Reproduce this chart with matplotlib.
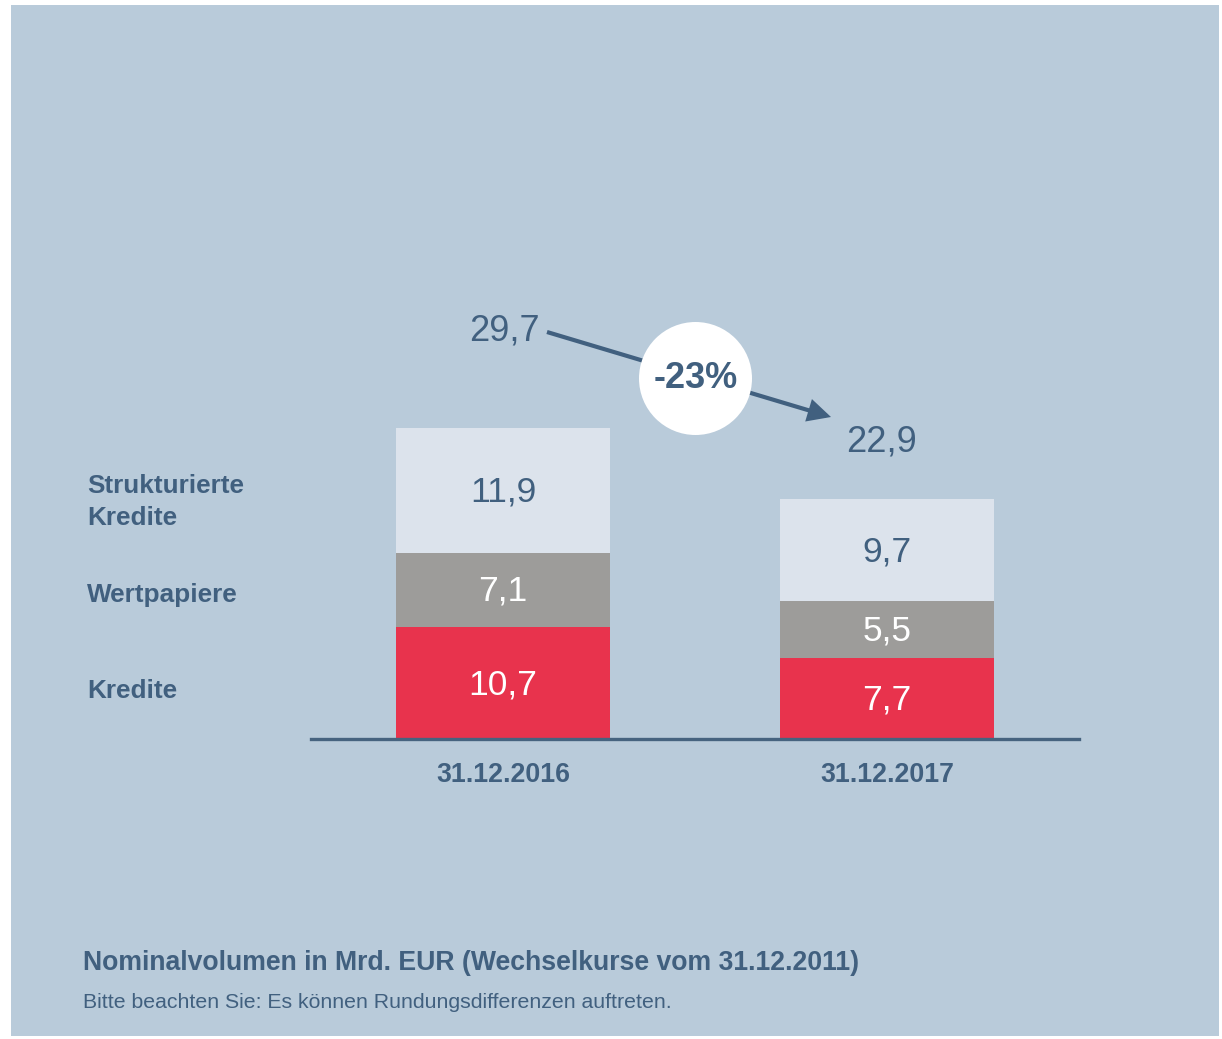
import matplotlib
matplotlib.use("Agg")
import matplotlib.pyplot as plt
from matplotlib.patches import Rectangle, Circle, FancyArrowPatch

plt.rcParams['font.family'] = ['Liberation Sans', 'DejaVu Sans']

# ---- data ----
categories = ["31.12.2016", "31.12.2017"]
series_names = ["Kredite", "Wertpapiere", "Strukturierte\nKredite"]
kredite = [10.7, 7.7]
wertpapiere = [7.1, 5.5]
strukturierte = [11.9, 9.7]
totals = [29.7, 22.9]
change_label = "-23%"
title = "Nominalvolumen in Mrd. EUR (Wechselkurse vom 31.12.2011)"
note = "Bitte beachten Sie: Es können Rundungsdifferenzen auftreten."

# ---- style ----
W, H = 1222, 1039
BG = "#B9CBDA"
DARK = "#41607F"
C_RED = "#E8334D"
C_GRAY = "#9D9C9A"
C_LIGHT = "#DCE3EC"

fmt = lambda v: f"{v:.1f}".replace(".", ",")

fig = plt.figure(figsize=(W / 100, H / 100), dpi=100, facecolor="white")

# overlay axes in pixel coordinates (y downwards)
ov = fig.add_axes([0, 0, 1, 1], zorder=0)
ov.set_xlim(0, W)
ov.set_ylim(H, 0)
ov.axis("off")
ov.add_patch(Rectangle((11, 5), 1208, 1031, facecolor=BG, edgecolor="none"))

# bar axes: x from px 311..1079, baseline at px 739, 10.47 px per unit
px_per_unit = 10.47
ymax = 40
ax_bottom_px = 739
ax_h_px = ymax * px_per_unit
ax = fig.add_axes([311 / W, (H - ax_bottom_px) / H, (1079 - 311) / W, ax_h_px / H], zorder=1)
ax.patch.set_alpha(0)
ax.set_xlim(0, 2)
ax.set_ylim(0, ymax)
for s in ax.spines.values():
    s.set_visible(False)
ax.set_xticks([])
ax.set_yticks([])
ax.axhline(0, color="#46637F", lw=2.4, zorder=5, clip_on=False)

xs = [0.5, 1.5]
bw = 0.555
layers = [(kredite, C_RED, "white"), (wertpapiere, C_GRAY, "white"), (strukturierte, C_LIGHT, DARK)]
bottoms = [0.0, 0.0]
for vals, col, tcol in layers:
    ax.bar(xs, vals, bw, bottom=bottoms, color=col, edgecolor="none", zorder=2)
    for x, b, v in zip(xs, bottoms, vals):
        ax.text(x, b + v / 2 - 0.15, fmt(v), ha="center", va="center", color=tcol, fontsize=25.5, zorder=3)
    bottoms = [b + v for b, v in zip(bottoms, vals)]

for x, c in zip(xs, categories):
    ax.text(x, -3.45, c, ha="center", va="center", color=DARK, fontsize=19.3,
            fontweight="bold", clip_on=False)

# totals, arrow, circle (overlay in pixel coordinates)
ov2 = fig.add_axes([0, 0, 1, 1], zorder=3)
ov2.set_xlim(0, W)
ov2.set_ylim(H, 0)
ov2.axis("off")
ov2.text(504, 331, fmt(totals[0]), ha="center", va="center", color=DARK, fontsize=26)
ov2.text(882, 442, fmt(totals[1]), ha="center", va="center", color=DARK, fontsize=26)
arr = FancyArrowPatch((547, 332), (831, 417), arrowstyle="-|>,head_length=0.6,head_width=0.3",
                      mutation_scale=20, color=DARK, lw=3, shrinkA=0, shrinkB=0,
                      joinstyle="miter", capstyle="butt")
ov2.add_patch(arr)
ov2.add_patch(Circle((695.5, 378.5), 56.5, facecolor="white", edgecolor="none", zorder=4))
ov2.text(696, 378, change_label, ha="center", va="center", color=DARK, fontsize=26,
         fontweight="bold", zorder=5)

# legend-like labels on the left
ov2.text(87, 502, series_names[2], ha="left", va="center", color=DARK, fontsize=18.8,
         fontweight="bold", linespacing=1.4)
ov2.text(87, 595, series_names[1], ha="left", va="center", color=DARK, fontsize=18.8, fontweight="bold")
ov2.text(87, 691, series_names[0], ha="left", va="center", color=DARK, fontsize=18.8, fontweight="bold")

# title and note
ov2.text(83, 963, title, ha="left", va="center", color=DARK, fontsize=19.2, fontweight="bold")
ov2.text(83, 1002, note, ha="left", va="center", color=DARK, fontsize=15.3)

fig.savefig("out.png", dpi=100, facecolor="white")
